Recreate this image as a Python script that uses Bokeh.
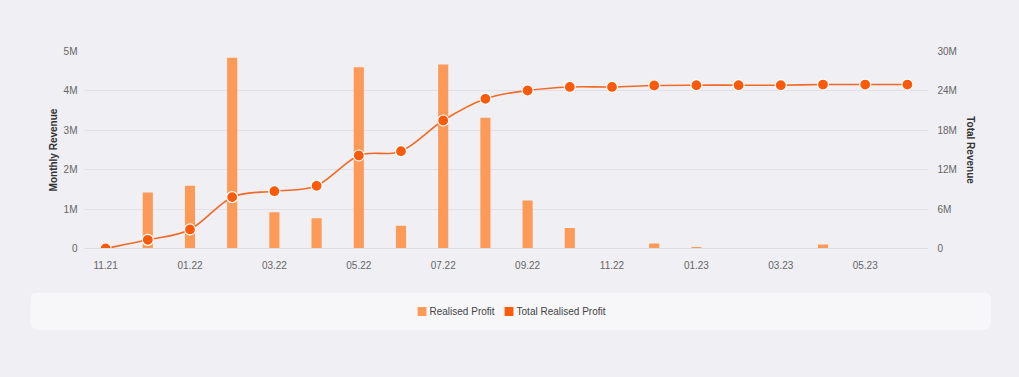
from bokeh.plotting import figure
from bokeh.models import (ColumnDataSource, Range1d, LinearAxis, FixedTicker, CustomJSTickFormatter,
                          Legend, LegendItem, Spacer)
from bokeh.layouts import column, row
from bokeh.embed import file_html
from bokeh.resources import INLINE

# ---------------- data ----------------
months = ["11.21", "12.21", "01.22", "02.22", "03.22", "04.22", "05.22", "06.22", "07.22", "08.22",
          "09.22", "10.22", "11.22", "12.22", "01.23", "02.23", "03.23", "04.23", "05.23", "06.23"]
realised_profit = [0, 1.42e6, 1.59e6, 4.84e6, 0.92e6, 0.77e6, 4.60e6, 0.58e6, 4.67e6, 3.32e6,
                   1.22e6, 0.52e6, 0, 0.13e6, 0.04e6, 0, 0, 0.10e6, 0, 0]
total_realised_profit = [0, 1.32e6, 2.90e6, 7.82e6, 8.73e6, 9.55e6, 14.16e6, 14.82e6, 19.49e6, 22.80e6,
                         24.06e6, 24.60e6, 24.60e6, 24.82e6, 24.87e6, 24.87e6, 24.87e6, 24.97e6, 24.97e6, 24.97e6]
left_ticks = [0, 1e6, 2e6, 3e6, 4e6, 5e6]
right_ticks = [0, 6e6, 12e6, 18e6, 24e6, 30e6]

# ---------------- styles ----------------
BG = "#efeff4"
PANEL = "#f7f7fa"
BAR = "#fd9a57"
LINE = "#f26a25"
DOT = "#fa5a0a"
FONT = "Liberation Sans"

n = len(months)
idx = list(range(n))
src = ColumnDataSource(dict(x=idx, month=months, profit=realised_profit, total=total_realised_profit))

# smooth curve segments (bezier through the data points)
s = 1.0 / 6.0
bx0, by0, bx1, by1, cx0, cy0, cx1, cy1 = [], [], [], [], [], [], [], []
for i in range(n - 1):
    pm = max(i - 1, 0)
    pp = min(i + 2, n - 1)
    bx0.append(idx[i]); by0.append(total_realised_profit[i])
    bx1.append(idx[i + 1]); by1.append(total_realised_profit[i + 1])
    cx0.append(idx[i] + (idx[i + 1] - idx[pm]) * s)
    cy0.append(total_realised_profit[i] + (total_realised_profit[i + 1] - total_realised_profit[pm]) * s)
    cx1.append(idx[i + 1] - (idx[pp] - idx[i]) * s)
    cy1.append(total_realised_profit[i + 1] - (total_realised_profit[pp] - total_realised_profit[i]) * s)
bsrc = ColumnDataSource(dict(x0=bx0, y0=by0, x1=bx1, y1=by1, cx0=cx0, cy0=cy0, cx1=cx1, cy1=cy1))

p = figure(width=1011, height=292, x_range=Range1d(-0.5, n - 0.5), y_range=Range1d(0, 5e6),
           output_backend="svg", toolbar_location=None,
           min_border_left=84, min_border_right=83, min_border_top=51, min_border_bottom=44,
           background_fill_color=BG, border_fill_color=BG, outline_line_color=None)
p.extra_y_ranges = {"total": Range1d(0, 30e6)}

fmt = CustomJSTickFormatter(code="return tick == 0 ? '0' : (tick / 1e6) + 'M';")


def style_axis(ax, standoff):
    ax.axis_line_color = None
    ax.major_tick_line_color = None
    ax.minor_tick_line_color = None
    ax.major_tick_out = 0
    ax.major_tick_in = 0
    ax.minor_tick_out = 0
    ax.minor_tick_in = 0
    ax.major_label_standoff = standoff
    ax.major_label_text_font = FONT
    ax.major_label_text_font_size = "10px"
    ax.major_label_text_color = "#666666"
    ax.axis_label_text_font = FONT
    ax.axis_label_text_font_style = "bold"
    ax.axis_label_text_font_size = "10px"
    ax.axis_label_text_color = "#333333"


# left axis
ya = p.yaxis[0]
ya.ticker = FixedTicker(ticks=left_ticks)
ya.formatter = fmt
style_axis(ya, 7)
ya.axis_label = "Monthly Revenue"
ya.axis_label_standoff = 2

# right axis
ra = LinearAxis(y_range_name="total", ticker=FixedTicker(ticks=right_ticks), formatter=fmt)
style_axis(ra, 9)
ra.axis_label = "Total Revenue"
ra.axis_label_standoff = 5
p.add_layout(ra, "right")

# bottom axis
xa = p.xaxis[0]
xa.ticker = FixedTicker(ticks=idx[::2])
xa.major_label_overrides = {i: months[i] for i in idx[::2]}
style_axis(xa, 12)
xa.axis_line_color = "#dcdce2"

p.xgrid.visible = False
p.ygrid.ticker = FixedTicker(ticks=left_ticks)
p.ygrid.grid_line_color = "#e1e1e7"

p.vbar(x="x", top="profit", width=0.24, source=src, fill_color=BAR, line_color=None)
p.bezier(x0="x0", y0="y0", x1="x1", y1="y1", cx0="cx0", cy0="cy0", cx1="cx1", cy1="cy1",
         source=bsrc, line_color=LINE, line_width=1.6, y_range_name="total")
p.scatter(x="x", y="total", source=src, size=11, fill_color=DOT, line_color="white", line_width=1.2,
          y_range_name="total")

# legend panel (its renderers lie outside the visible ranges; only the legend shows)
p2 = figure(width=961, height=38, x_range=Range1d(-100, -99), y_range=Range1d(-100, -99),
            output_backend="svg", toolbar_location=None, min_border=0,
            x_axis_location=None, y_axis_location=None,
            background_fill_color=PANEL, border_fill_color=PANEL, outline_line_color=None)
p2.grid.visible = False
r1 = p2.vbar(x="x", top="profit", width=0.24, source=src, fill_color=BAR, line_color=None)
r2 = p2.vbar(x="x", top="total", width=0.24, source=src, fill_color=DOT, line_color=None)
legend = Legend(items=[LegendItem(label="Realised Profit", renderers=[r1]),
                       LegendItem(label="Total Realised Profit", renderers=[r2])],
                location="center", orientation="horizontal", glyph_width=11, glyph_height=11,
                label_standoff=3, spacing=8, padding=0, margin=0,
                background_fill_alpha=0, border_line_color=None,
                label_text_font=FONT, label_text_font_size="10px", label_text_color="#444444")
p2.add_layout(legend)
p2.styles = {"border-radius": "8px", "overflow": "hidden"}

layout = column(p, row(Spacer(width=30), p2), spacing=0)

html = file_html(layout, INLINE)
html = html.replace("</head>", "<style>html, body { background: %s; }</style></head>" % BG, 1)
open("out.html", "w").write(html)
